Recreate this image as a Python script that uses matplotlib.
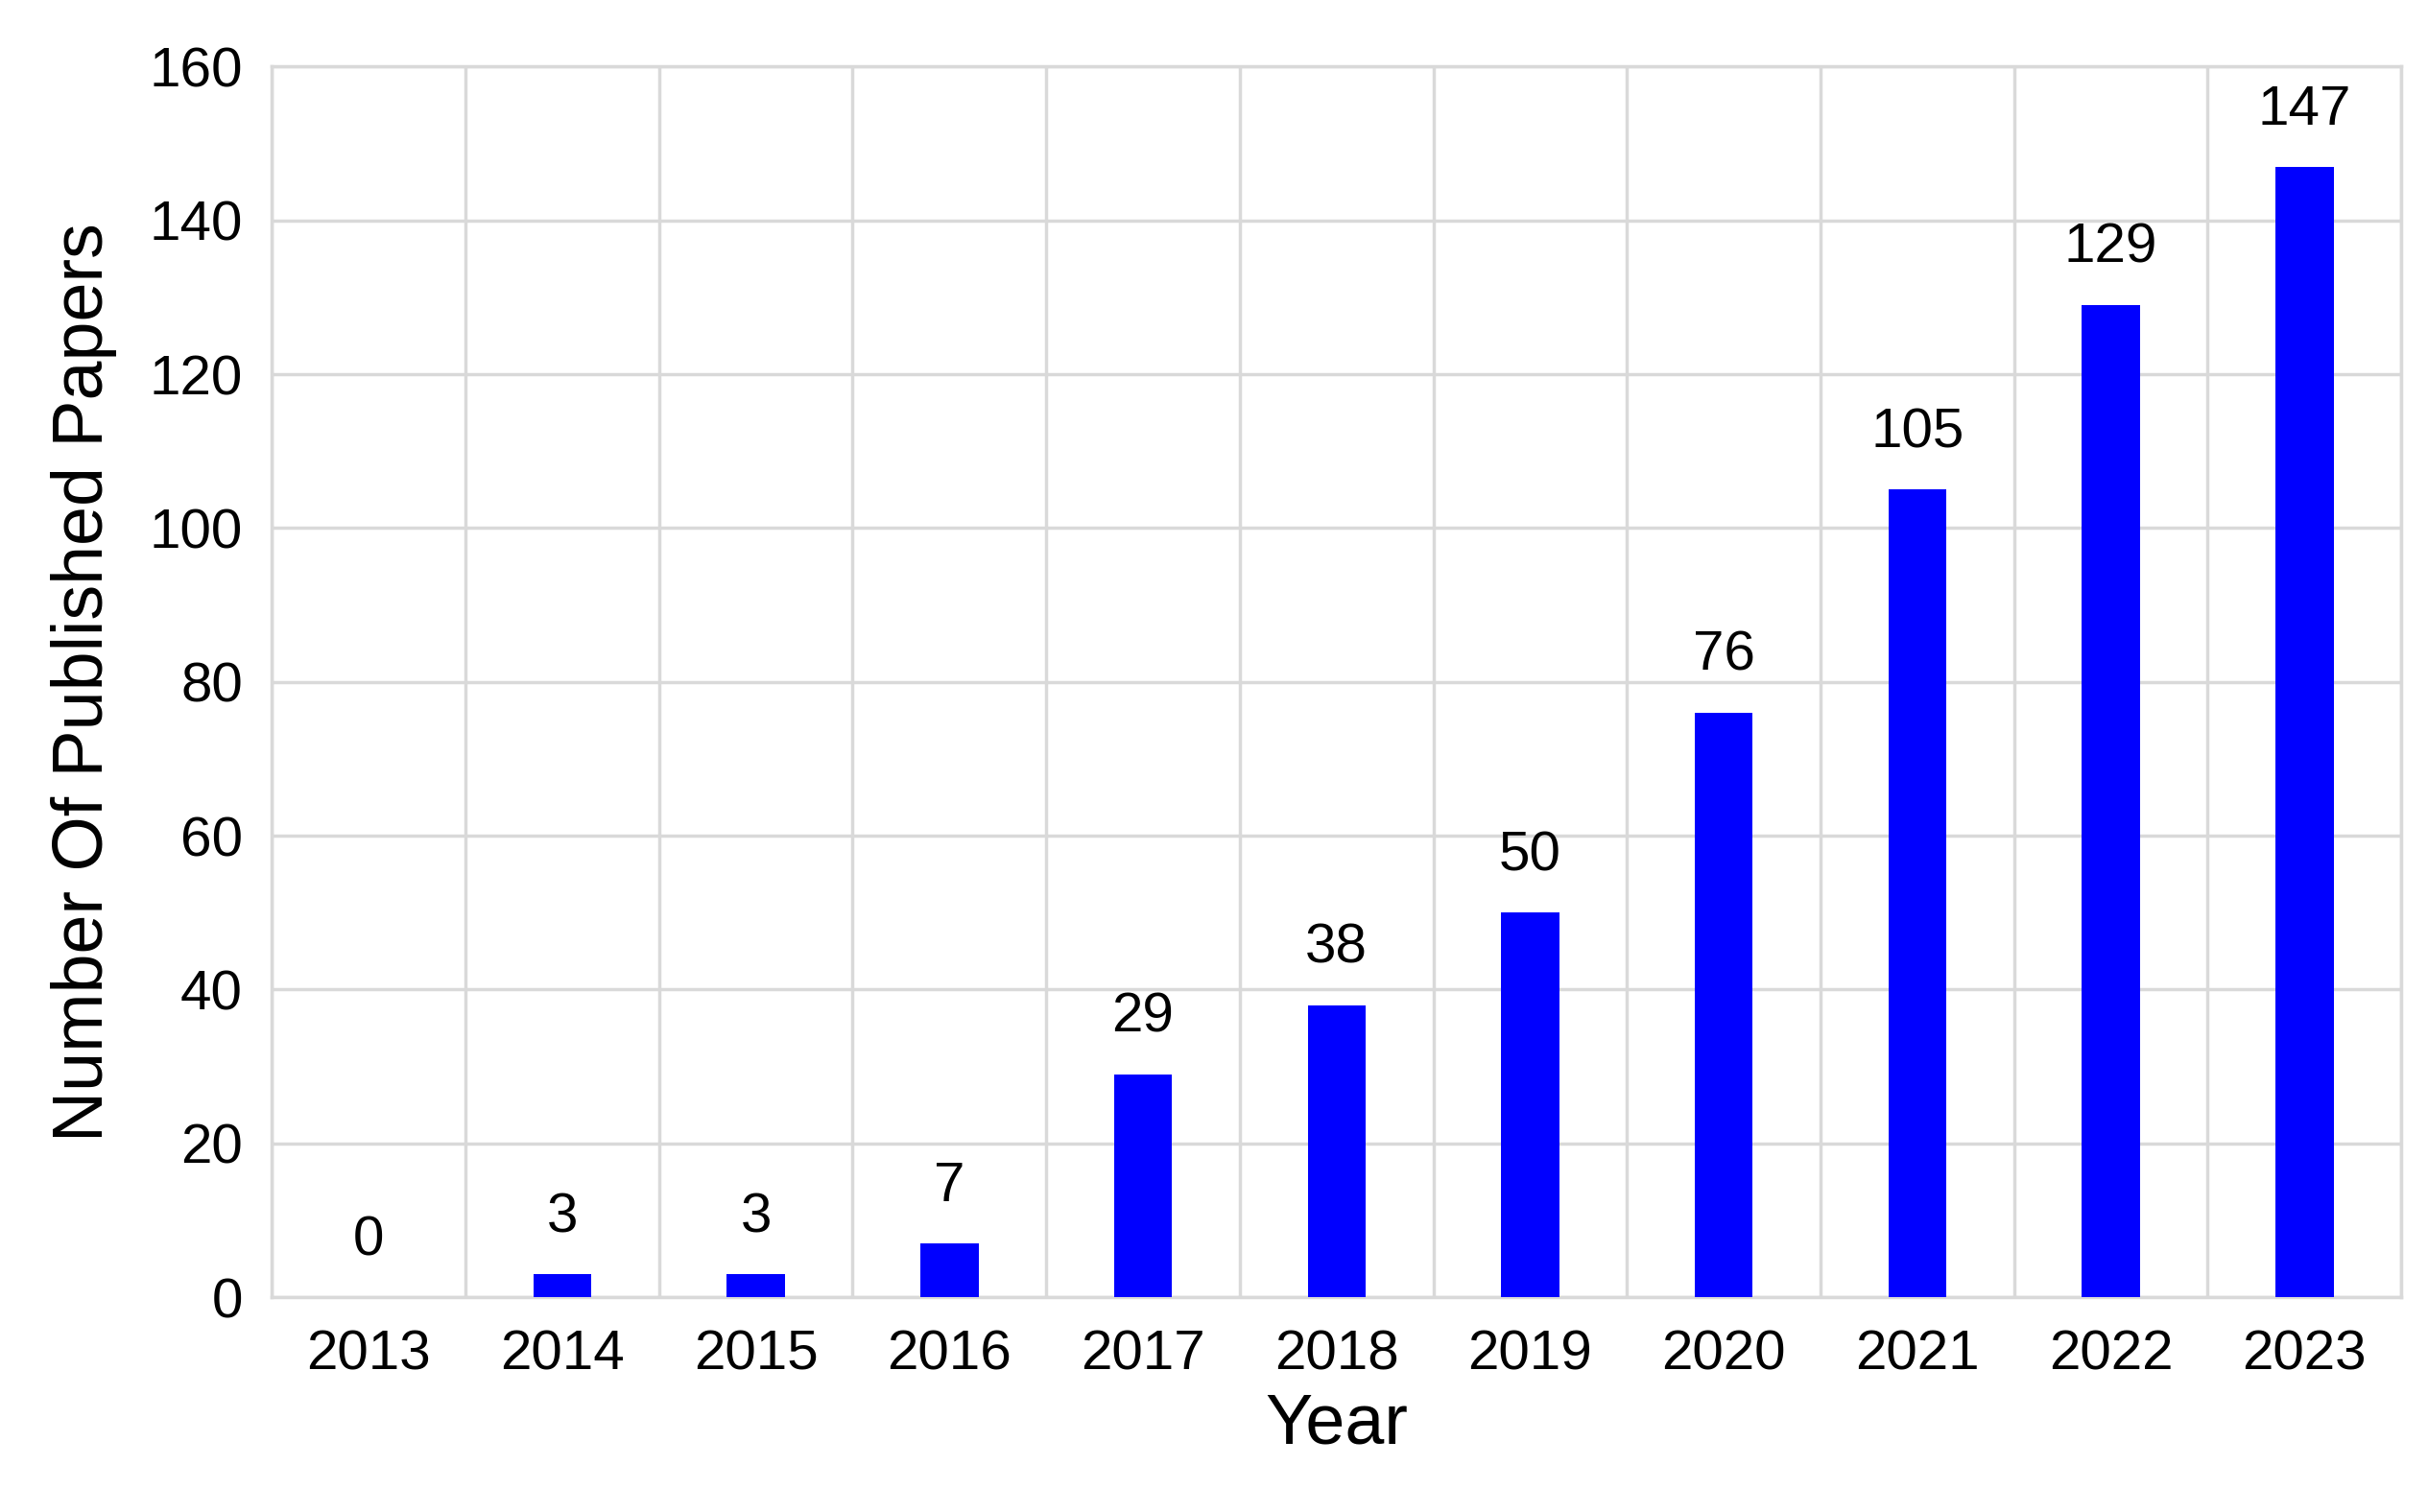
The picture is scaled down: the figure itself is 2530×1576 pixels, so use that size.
import matplotlib.pyplot as plt
import numpy as np

plt.rcParams['font.family'] = ['Liberation Sans', 'DejaVu Sans']

years = ['2013', '2014', '2015', '2016', '2017', '2018', '2019', '2020', '2021', '2022', '2023']
papers = [0, 3, 3, 7, 29, 38, 50, 76, 105, 129, 147]

fig = plt.figure(figsize=(25.3, 15.76), dpi=100)
ax = fig.add_axes([0.112, 0.142, 0.877, 0.814])

x = np.arange(len(years))
ax.bar(x, papers, width=0.3, color='#0000ff', zorder=3)
for xi, v in zip(x, papers):
    ax.text(xi, v + 4, str(v), ha='center', va='bottom', fontsize=42)

ax.set_xlim(-0.5, len(years) - 0.5)
ax.set_ylim(0, 160)
ax.set_yticks(range(0, 161, 20))
ax.set_xticks(x)
ax.set_xticklabels(years)
ax.set_xticks(np.arange(-0.5, len(years)), minor=True)
ax.grid(True, axis='y', color='#d9d9d9', linewidth=2.5, zorder=0)
ax.grid(True, axis='x', which='minor', color='#d9d9d9', linewidth=2.5, zorder=0)
ax.tick_params(axis='both', which='both', length=0, labelsize=42)
ax.tick_params(axis='x', pad=24)
ax.tick_params(axis='y', pad=22)
for s in ax.spines.values():
    s.set_color('#d9d9d9')
    s.set_linewidth(2.5)

ax.set_xlabel('Year', fontsize=53, labelpad=8)
ax.set_ylabel('Number Of Published Papers', fontsize=53, labelpad=24)

fig.savefig('out.png')
